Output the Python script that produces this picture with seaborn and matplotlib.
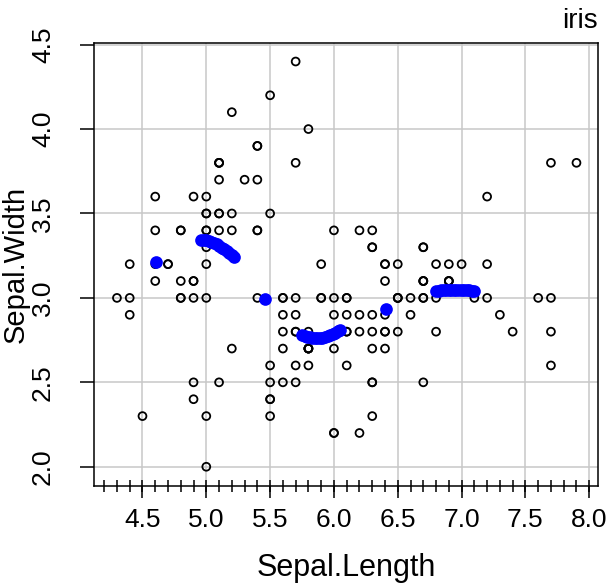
import pandas as pd
import matplotlib.pyplot as plt
import seaborn as sns
from matplotlib.ticker import MultipleLocator, FormatStrFormatter

sns.set_style('white')
plt.rcParams['font.family'] = ['Liberation Sans', 'DejaVu Sans']
plt.rcParams['text.color'] = 'black'
plt.rcParams['axes.labelcolor'] = 'black'
plt.rcParams['xtick.color'] = 'black'
plt.rcParams['ytick.color'] = 'black'

# iris: Sepal.Length / Sepal.Width
sepal_length = [
    5.1, 4.9, 4.7, 4.6, 5.0, 5.4, 4.6, 5.0, 4.4, 4.9, 5.4, 4.8, 4.8, 4.3, 5.8, 5.7, 5.4, 5.1, 5.7, 5.1,
    5.4, 5.1, 4.6, 5.1, 4.8, 5.0, 5.0, 5.2, 5.2, 4.7, 4.8, 5.4, 5.2, 5.5, 4.9, 5.0, 5.5, 4.9, 4.4, 5.1,
    5.0, 4.5, 4.4, 5.0, 5.1, 4.8, 5.1, 4.6, 5.3, 5.0,
    7.0, 6.4, 6.9, 5.5, 6.5, 5.7, 6.3, 4.9, 6.6, 5.2, 5.0, 5.9, 6.0, 6.1, 5.6, 6.7, 5.6, 5.8, 6.2, 5.6,
    5.9, 6.1, 6.3, 6.1, 6.4, 6.6, 6.8, 6.7, 6.0, 5.7, 5.5, 5.5, 5.8, 6.0, 5.4, 6.0, 6.7, 6.3, 5.6, 5.5,
    5.5, 6.1, 5.8, 5.0, 5.6, 5.7, 5.7, 6.2, 5.1, 5.7,
    6.3, 5.8, 7.1, 6.3, 6.5, 7.6, 4.9, 7.3, 6.7, 7.2, 6.5, 6.4, 6.8, 5.7, 5.8, 6.4, 6.5, 7.7, 7.7, 6.0,
    6.9, 5.6, 7.7, 6.3, 6.7, 7.2, 6.2, 6.1, 6.4, 7.2, 7.4, 7.9, 6.4, 6.3, 6.1, 7.7, 6.3, 6.4, 6.0, 6.9,
    6.7, 6.9, 5.8, 6.8, 6.7, 6.7, 6.3, 6.5, 6.2, 5.9,
]
sepal_width = [
    3.5, 3.0, 3.2, 3.1, 3.6, 3.9, 3.4, 3.4, 2.9, 3.1, 3.7, 3.4, 3.0, 3.0, 4.0, 4.4, 3.9, 3.5, 3.8, 3.8,
    3.4, 3.7, 3.6, 3.3, 3.4, 3.0, 3.4, 3.5, 3.4, 3.2, 3.1, 3.4, 4.1, 4.2, 3.1, 3.2, 3.5, 3.6, 3.0, 3.4,
    3.5, 2.3, 3.2, 3.5, 3.8, 3.0, 3.8, 3.2, 3.7, 3.3,
    3.2, 3.2, 3.1, 2.3, 2.8, 2.8, 3.3, 2.4, 2.9, 2.7, 2.0, 3.0, 2.2, 2.9, 2.9, 3.1, 3.0, 2.7, 2.2, 2.5,
    3.2, 2.8, 2.5, 2.8, 2.9, 3.0, 2.8, 3.0, 2.9, 2.6, 2.4, 2.4, 2.7, 2.7, 3.0, 3.4, 3.1, 2.3, 3.0, 2.5,
    2.6, 3.0, 2.6, 2.3, 2.7, 3.0, 2.9, 2.9, 2.5, 2.8,
    3.3, 2.7, 3.0, 2.9, 3.0, 3.0, 2.5, 2.9, 2.5, 3.6, 3.2, 2.7, 3.0, 2.5, 2.8, 3.2, 3.0, 3.8, 2.6, 2.2,
    3.2, 2.8, 2.8, 2.7, 3.3, 3.2, 2.8, 3.0, 2.8, 3.0, 2.8, 3.8, 2.8, 2.8, 2.6, 3.0, 3.4, 3.1, 3.0, 3.1,
    3.1, 3.1, 2.7, 3.2, 3.3, 3.0, 2.5, 3.0, 3.4, 3.0,
]

# blue fitted points
fit_x = [
    4.605,
    4.96, 4.98, 5.00, 5.02, 5.04, 5.06, 5.08, 5.10, 5.12, 5.14, 5.16, 5.18, 5.20, 5.22,
    5.46,
    5.75, 5.77, 5.79, 5.81, 5.83, 5.85, 5.87, 5.89, 5.91, 5.93, 5.95, 5.97, 5.99, 6.01, 6.03, 6.05,
    6.41,
    6.80, 6.82, 6.84, 6.86, 6.88, 6.90, 6.92, 6.94, 6.96, 6.98, 7.00, 7.02, 7.04, 7.06, 7.08, 7.10,
]
fit_y = [
    3.211,
    3.340, 3.342, 3.340, 3.337, 3.332, 3.326, 3.318, 3.308, 3.298, 3.287, 3.275, 3.263, 3.252, 3.243,
    2.993,
    2.781, 2.775, 2.770, 2.766, 2.763, 2.761, 2.761, 2.762, 2.765, 2.769, 2.774, 2.780, 2.787, 2.795, 2.803, 2.810,
    2.934,
    3.040, 3.042, 3.044, 3.046, 3.047, 3.048, 3.049, 3.049, 3.049, 3.049, 3.048, 3.047, 3.046, 3.045, 3.043, 3.041,
]

df = pd.DataFrame({'Sepal.Length': sepal_length, 'Sepal.Width': sepal_width})
fit = pd.DataFrame({'x': fit_x, 'y': fit_y})

fig = plt.figure(figsize=(6.11, 5.84), dpi=100)
ax = fig.add_axes([0.1538, 0.1678, 0.8252, 0.7581])

sns.scatterplot(data=df, x='Sepal.Length', y='Sepal.Width', marker='o', s=32,
                facecolors='none', edgecolor='black', linewidth=1.3, ax=ax, zorder=3)
sns.scatterplot(data=fit, x='x', y='y', color='#0000ff', s=83, linewidth=0, ax=ax, zorder=4)

ax.set_xlim(4.12, 8.07)
ax.set_ylim(1.886, 4.508)

ax.xaxis.set_major_locator(MultipleLocator(0.5))
ax.xaxis.set_minor_locator(MultipleLocator(0.1))
ax.xaxis.remove_overlapping_locs = False
ax.yaxis.set_major_locator(MultipleLocator(0.5))
ax.xaxis.set_major_formatter(FormatStrFormatter('%.1f'))
ax.yaxis.set_major_formatter(FormatStrFormatter('%.1f'))

ax.tick_params(axis='x', which='major', direction='out', length=8.6, width=1.1,
               pad=7, labelsize=19, bottom=True)
ax.tick_params(axis='x', which='minor', direction='inout', length=8, width=1.1, bottom=True)
ax.tick_params(axis='y', which='major', direction='out', length=10, width=1.1,
               pad=18, labelsize=19, labelrotation=90, left=True)
for lab in ax.get_yticklabels():
    lab.set_va('center')

ax.grid(True, which='major', color='#c8c8c8', linewidth=1.1)
ax.set_axisbelow(True)
for sp in ax.spines.values():
    sp.set_color('black')
    sp.set_linewidth(1.1)

ax.set_xlabel('Sepal.Length', fontsize=22, labelpad=15)
ax.set_ylabel('Sepal.Width', fontsize=21, va='center')
ax.yaxis.set_label_coords(-0.155, 0.5)
ax.set_title('iris', loc='right', fontsize=20, pad=11)

fig.savefig('out.png', dpi=100)
